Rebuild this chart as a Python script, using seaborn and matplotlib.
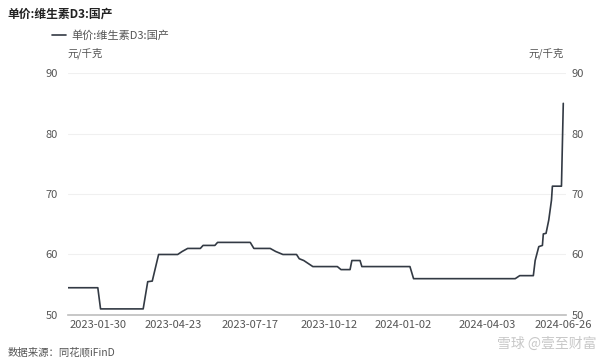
import pandas as pd
import matplotlib
matplotlib.use('Agg')
import matplotlib.pyplot as plt
import matplotlib.dates as mdates
import seaborn as sns

# 数据（从图上读取的拐点）
datas = ['2022-12-28', '2023-01-30', '2023-02-02', '2023-03-21', '2023-03-26', '2023-03-31',
         '2023-04-07', '2023-04-28', '2023-05-03', '2023-05-09', '2023-05-23', '2023-05-26',
         '2023-06-08', '2023-06-11', '2023-07-17', '2023-07-21', '2023-08-08', '2023-08-14',
         '2023-08-22', '2023-09-06', '2023-09-09', '2023-09-14', '2023-09-19', '2023-09-24',
         '2023-10-21', '2023-10-25', '2023-11-04', '2023-11-06', '2023-11-15', '2023-11-17',
         '2024-01-09', '2024-01-13', '2024-05-04', '2024-05-09', '2024-05-24', '2024-05-26',
         '2024-05-30', '2024-06-03', '2024-06-04', '2024-06-07', '2024-06-10', '2024-06-13',
         '2024-06-14', '2024-06-24', '2024-06-26']
precos = [54.5, 54.5, 51.0, 51.0, 55.5, 55.6,
          60.0, 60.0, 60.5, 61.0, 61.0, 61.5,
          61.5, 62.0, 62.0, 61.0, 61.0, 60.5,
          60.0, 60.0, 59.3, 59.0, 58.5, 58.0,
          58.0, 57.5, 57.5, 59.0, 59.0, 58.0,
          58.0, 56.0, 56.0, 56.5, 56.5, 59.0,
          61.3, 61.5, 63.4, 63.5, 65.7, 69.0,
          71.3, 71.3, 85.0]
ticks_x = ['2023-01-30', '2023-04-23', '2023-07-17', '2023-10-12', '2024-01-02', '2024-04-03', '2024-06-26']
ticks_y = [50, 60, 70, 80, 90]

serie = '单价:维生素D3:国产'
df = pd.DataFrame({'data': pd.to_datetime(datas), 'preco': precos})

sns.set_theme(style='white')
plt.rcParams['font.family'] = ['Noto Sans CJK SC', 'DejaVu Sans']
cinza = '#555555'

fig = plt.figure(figsize=(6.06, 3.62), dpi=100)
ax = fig.add_axes([0.112, 0.130, 0.822, 0.668])

sns.lineplot(x='data', y='preco', data=df, ax=ax, color='#333a44', linewidth=1.2, label=serie)

ax.set_ylim(50, 90)
ax.set_xlim(pd.Timestamp('2022-12-28'), pd.Timestamp('2024-06-29'))
ax.set_yticks(ticks_y)
ax.set_xticks(pd.to_datetime(ticks_x))
ax.xaxis.set_major_formatter(mdates.DateFormatter('%Y-%m-%d'))
ax.tick_params(axis='both', length=0, labelsize=8, colors=cinza)
ax.tick_params(axis='x', pad=4)
ax.tick_params(axis='y', pad=7)
ax.set_xlabel('')
ax.set_ylabel('')
for y in ticks_y[1:]:
    ax.axhline(y, color='#f0f0f0', linewidth=0.8, zorder=0)
for s in ['top', 'right', 'left']:
    ax.spines[s].set_visible(False)
ax.spines['bottom'].set_color('#bdbdbd')
ax.spines['bottom'].set_linewidth(1.2)

# eixo da direita
ax2 = ax.twinx()
ax2.set_ylim(50, 90)
ax2.set_yticks(ticks_y)
ax2.tick_params(axis='y', length=0, labelsize=8, colors=cinza, pad=4)
for s in ['top', 'right', 'left', 'bottom']:
    ax2.spines[s].set_visible(False)

# legenda
ax.legend(loc='center left', bbox_to_anchor=(0.085, 0.903), bbox_transform=fig.transFigure,
          frameon=False, fontsize=8, handlelength=1.3, handletextpad=0.5,
          borderpad=0, borderaxespad=0, labelcolor=cinza)

# textos
fig.text(0.013, 0.962, serie, fontsize=8.5, fontweight='bold', color='#222222', va='center')
fig.text(0.112, 0.853, '元/千克', fontsize=7.5, color=cinza, va='center')
fig.text(0.872, 0.853, '元/千克', fontsize=7.5, color=cinza, va='center')
fig.text(0.013, 0.026, '数据来源：同花顺iFinD', fontsize=7.5, color=cinza, va='center')
fig.text(0.985, 0.05, '雪球 @壹至财富', fontsize=10, color='#c8c8c8', ha='right', va='center')

plt.savefig('out.png', dpi=100)
